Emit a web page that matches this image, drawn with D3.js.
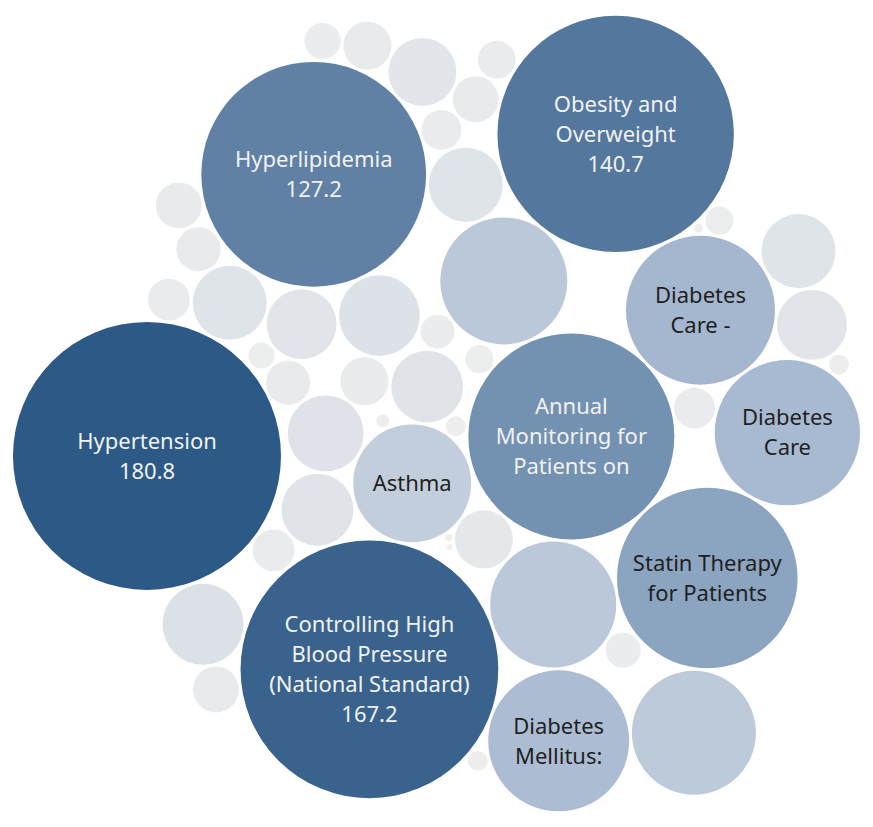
<!DOCTYPE html>
<html>
<head>
<meta charset="utf-8">
<script src="https://cdn.jsdelivr.net/npm/d3@7"></script>
<style>
  html, body { margin: 0; padding: 0; background: #ffffff; overflow: hidden; }
  svg { display: block; }
  text { font-family: "Noto Sans", "Open Sans", sans-serif; }
</style>
</head>
<body>
<svg id="chart" width="873" height="827"></svg>
<script>
// ---- data, in data-source order ----
const categories = [
  "", "", "", "", "", "", "Asthma", "", "Annual\nMonitoring for\nPatients on", "",
  "", "", "", "Diabetes\nCare -", "", "", "", "", "", "",
  "Hyperlipidemia", "", "", "", "", "", "",
  "Controlling High\nBlood Pressure\n(National Standard)", "",
  "Diabetes\nCare", "", "Obesity and\nOverweight",
  "Diabetes\nMellitus:", "", "", "", "", "Statin Therapy\nfor Patients", "", "", "", "", "", "Hypertension", "", "", "", "", "", ""
];
const values = [
  1.0, 0.43, 2.0, 8.5, 16.4, 5.8, 35.0, 13.0, 106.8, 14.5,
  2.9, 0.09, 12.3, 55.9, 13.0, 13.8, 40.0, 4.9, 40.6, 0.12,
  127.2, 4.2, 4.4, 5.3, 3.1, 13.8, 2.0,
  167.2, 4.0,
  53.1, 1.7, 140.7,
  50.0, 5.3, 12.3, 16.5, 11.6, 82.1, 4.4, 0.2, 1.0, 3.3, 1.0, 180.8, 3.6, 38.7, 4.9, 13.8, 5.3, 5.8
];
const colorStops = [0, 16, 55, 180.8];
const colorRange = ["#eeeeee", "#dde2e8", "#a5b8d0", "#2c5985"];

// ---- layout ----
const W = 873, H = 827;
const rScale = d3.scaleSqrt().domain([0, 180.8]).range([0, 134]);
const color = d3.scaleLinear().domain(colorStops).range(colorRange).clamp(true);
const GOLD = Math.PI * (3 - Math.sqrt(5));

const nodes = categories.map((c, i) => {
  const a = i * GOLD, rad = 57 * Math.sqrt(i + 0.5);
  return { name: c, value: values[i], r: rScale(values[i]), x: rad * Math.cos(a), y: rad * Math.sin(a) };
});

const sim = d3.forceSimulation(nodes)
  .force("x", d3.forceX(0).strength(0.035))
  .force("y", d3.forceY(0).strength(0.033))
  .force("collide", d3.forceCollide(d => d.r + 1.5).strength(0.9).iterations(4))
  .stop();
for (let i = 0; i < 500; i++) sim.tick();

const x0 = d3.min(nodes, d => d.x - d.r), x1 = d3.max(nodes, d => d.x + d.r);
const y0 = d3.min(nodes, d => d.y - d.r), y1 = d3.max(nodes, d => d.y + d.r);
const xS = d3.scaleLinear().domain([x0, x1]).range([W / 2 - (x1 - x0) / 2, W / 2 + (x1 - x0) / 2]);
const yS = d3.scaleLinear().domain([y0, y1]).range([H / 2 - (y1 - y0) / 2, H / 2 + (y1 - y0) / 2]);

const svg = d3.select("#chart");
const g = svg.selectAll("g.bubble").data(nodes).join("g")
  .attr("class", "bubble")
  .attr("transform", d => `translate(${xS(d.x)},${yS(d.y)})`);

g.append("circle")
  .attr("r", d => d.r)
  .attr("fill", d => color(d.value));

const fmt = d3.format(".1f");
g.each(function (d) {
  if (!d.name) return;
  const lines = d.name.split("\n");
  if (d.value > 120) lines.push(fmt(d.value));
  const lh = 30;
  const t = d3.select(this).append("text")
    .attr("text-anchor", "middle")
    .attr("font-size", 22)
    .attr("fill", d.value > 95 ? "#f2f2f2" : "#1f1f1f");
  lines.forEach((l, i) => {
    t.append("tspan").attr("x", 0)
      .attr("y", (i - (lines.length - 1) / 2) * lh)
      .attr("dy", "0.35em")
      .text(l);
  });
});
</script>
</body>
</html>
